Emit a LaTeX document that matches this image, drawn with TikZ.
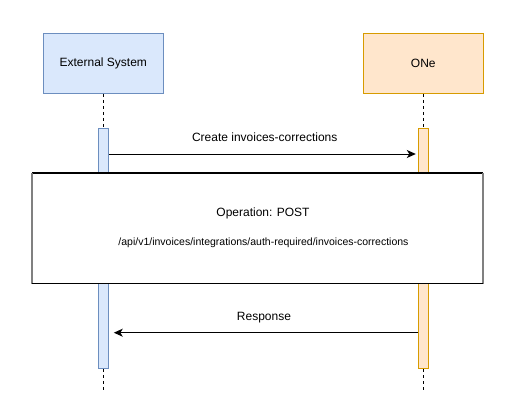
\documentclass[tikz,border=0pt]{standalone}
\usepackage{fontspec}
\setmainfont{Liberation Sans}
\usetikzlibrary{arrows.meta}
\definecolor{bfill}{HTML}{DAE8FC}
\definecolor{bline}{HTML}{6C8EBF}
\definecolor{ofill}{HTML}{FFE6CC}
\definecolor{oline}{HTML}{D79B00}
\tikzset{
  actor/.style={draw, line width=1pt, minimum width=120pt, minimum height=60pt, inner sep=0pt, font=\fontsize{12}{14}\selectfont},
  bar/.style={draw, line width=1pt, minimum width=10pt, minimum height=240pt, inner sep=0pt},
  lifeline/.style={line width=1pt, dash pattern=on 3pt off 3pt},
  msg/.style={line width=1pt, -{Stealth[length=9pt,width=8pt,inset=2.5pt]}},
  lbl/.style={font=\fontsize{12}{14}\selectfont, inner sep=0pt},
  opbox/.style={draw, fill=white, line width=1pt, minimum width=450pt, minimum height=110pt, inner sep=0pt}
}
\begin{document}
\begin{tikzpicture}[x=1pt,y=-1pt]
\useasboundingbox (0,0) rectangle (518,401);
\node[actor, fill=bfill, draw=bline] (ext) at (103.3,63.3) {External System};
\node[actor, fill=ofill, draw=oline] (one) at (423.3,63.3) {ONe};
\node[bar, fill=bfill, draw=bline] (lb) at (103.3,248.3) {};
\node[bar, fill=ofill, draw=oline] (rb) at (423.3,248.8) {};
\coordinate (lend) at (103.3,392);
\coordinate (rend) at (423.3,392);
\draw[lifeline] (ext.south) -- (lb.north);
\draw[lifeline] (one.south) -- (rb.north);
\draw[lifeline] (lb.south) -- (lend);
\draw[lifeline] (rb.south) -- (rend);
\coordinate (a1) at (0,154);
\coordinate (a2) at (0,332.7);
\draw[msg, shorten >=2pt] (lb.east |- a1) -- (rb.west |- a1);
\node[lbl] (t1) at (264.7,137.3) {Create invoices-corrections};
\draw[msg, shorten >=5pt] (rb.west |- a2) -- (lb.east |- a2);
\node[lbl] (t2) at (264,318) {Response};
\node[opbox] (op) at (257.7,228.3) {};
\draw[gray, line width=2pt] (op.north west) -- (op.south west);
\draw[gray, line width=2pt] (op.north east) -- (op.south east);
\draw[line width=1pt] (op.north west) -- (op.north east);
\draw[line width=1pt] (op.south west) -- (op.south east);
\node[lbl] (t3) at (263,213.5) {Operation: POST};
\node[lbl, font=\fontsize{10.5}{12}\selectfont] (t4) at (263.5,243) {/api/v1/invoices/integrations/auth-required/invoices-corrections};
\end{tikzpicture}
\end{document}
